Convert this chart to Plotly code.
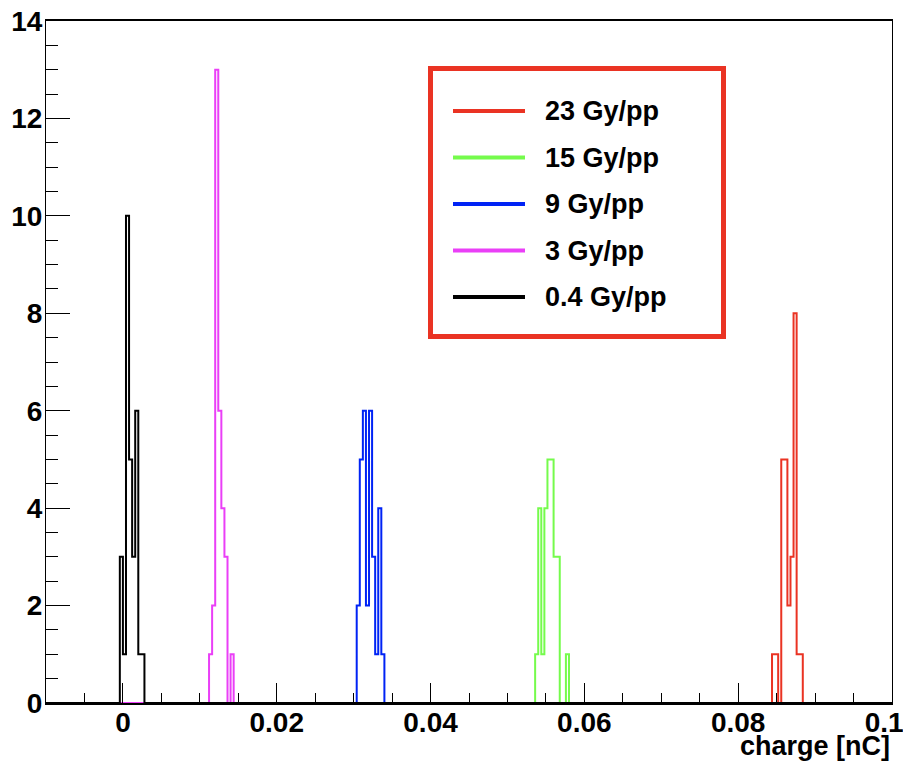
import plotly.graph_objects as go

# ---------------- data ----------------
x_min, x_max = -0.01, 0.1
bin_width = 0.0004

labels = ["23 Gy/pp", "15 Gy/pp", "9 Gy/pp", "3 Gy/pp", "0.4 Gy/pp"]
colors = ["#ea3323", "#75fb4c", "#0023f5", "#ea3ff7", "#000000"]
first_bin = [0.0844, 0.0536, 0.0304, 0.0112, -0.0004]
counts_23 = [1, 1, 0, 5, 5, 2, 3, 8, 1, 1]
counts_15 = [1, 4, 1, 4, 5, 5, 3, 3, 0, 0, 1]
counts_9 = [2, 5, 6, 2, 6, 3, 1, 4, 1]
counts_3 = [1, 2, 13, 6, 4, 3, 0, 1]
counts_04 = [3, 1, 10, 5, 3, 6, 1, 1]
series_counts = [counts_23, counts_15, counts_9, counts_3, counts_04]

x_ticks = [0, 0.02, 0.04, 0.06, 0.08, 0.1]
# last label padded (non-breaking spaces) so it stays inside the page
x_tick_text = ["0", "0.02", "0.04", "0.06", "0.08", "0.1\u00a0\u00a0"]
y_ticks = [0, 2, 4, 6, 8, 10, 12, 14]

# ---------------- layout geometry ----------------
# the page body has an 8px margin, so the figure is placed at (8, 8)
OFF = 8
W, H = 911 - OFF, 762 - OFF
L, R, T, B = 46 - OFF, 19, 21 - OFF, 59
PW, PH = W - L - R, H - T - B
FONT = "Liberation Sans"


def px(xp):
    """page pixel x -> paper x"""
    return (xp - OFF - L) / PW


def py(yp):
    """page pixel y -> paper y"""
    return (H - B - (yp - OFF)) / PH


n_bins = round((x_max - x_min) / bin_width)
edges = [x_min + i * bin_width for i in range(n_bins + 1)]

fig = go.Figure()
for lab, col, start, cnt in zip(labels, colors, first_bin, series_counts):
    full = [0] * n_bins
    i0 = round((start - x_min) / bin_width)
    for k, c in enumerate(cnt):
        full[i0 + k] = c
    fig.add_trace(go.Scatter(
        x=edges, y=full + [full[-1]], mode="lines", name=lab,
        line=dict(color=col, width=2, shape="hv"), showlegend=False,
        hoverinfo="skip"))

# ---------------- legend (box, samples, text) ----------------
shapes = [dict(type="rect", xref="paper", yref="paper",
               x0=px(430.5), x1=px(723.5), y0=py(336.5), y1=py(68.5),
               line=dict(color="#ea3323", width=5), fillcolor="white",
               layer="above")]
annotations = []
for i, (lab, col) in enumerate(zip(labels, colors)):
    yy = 111 + 46.5 * i
    shapes.append(dict(type="line", xref="paper", yref="paper",
                       x0=px(453), x1=px(525), y0=py(yy), y1=py(yy),
                       line=dict(color=col, width=4), layer="above"))
    annotations.append(dict(xref="paper", yref="paper", x=px(543), y=py(yy),
                            text=lab, showarrow=False, xanchor="left",
                            yanchor="middle",
                            font=dict(family=FONT, size=27, color="black",
                                      weight="bold")))

annotations.append(dict(xref="paper", yref="paper", x=1.0, y=py(746),
                        text="charge [nC]", showarrow=False, xanchor="right",
                        yanchor="middle",
                        font=dict(family=FONT, size=27, color="black",
                                  weight="bold")))

fig.update_layout(
    width=W, height=H,
    margin=dict(l=L, r=R, t=T, b=B),
    paper_bgcolor="white", plot_bgcolor="white",
    shapes=shapes, annotations=annotations,
    showlegend=False,
)
fig.update_xaxes(
    range=[x_min, x_max], tickvals=x_ticks, ticktext=x_tick_text,
    ticks="inside", ticklen=20, tickwidth=1, tickcolor="black",
    minor=dict(dtick=0.005, tick0=0, ticks="inside", ticklen=10,
               tickcolor="black", tickwidth=1),
    showline=True, linecolor="black", linewidth=2, mirror=True,
    showgrid=False, zeroline=False, automargin=False,
    ticklabelstandoff=-7, ticklabeloverflow="allow",
    tickfont=dict(family=FONT, size=28, color="black", weight="bold"),
)
fig.update_yaxes(
    range=[0, 14], tickvals=y_ticks,
    ticks="inside", ticklen=24, tickwidth=1, tickcolor="black",
    minor=dict(dtick=0.5, tick0=0, ticks="inside", ticklen=12,
               tickcolor="black", tickwidth=1),
    showline=True, linecolor="black", linewidth=1, mirror=True,
    showgrid=False, zeroline=False, automargin=False,
    ticklabelstandoff=-3, ticklabeloverflow="allow",
    tickfont=dict(family=FONT, size=28, color="black", weight="bold"),
)

fig.write_html("out.html")
